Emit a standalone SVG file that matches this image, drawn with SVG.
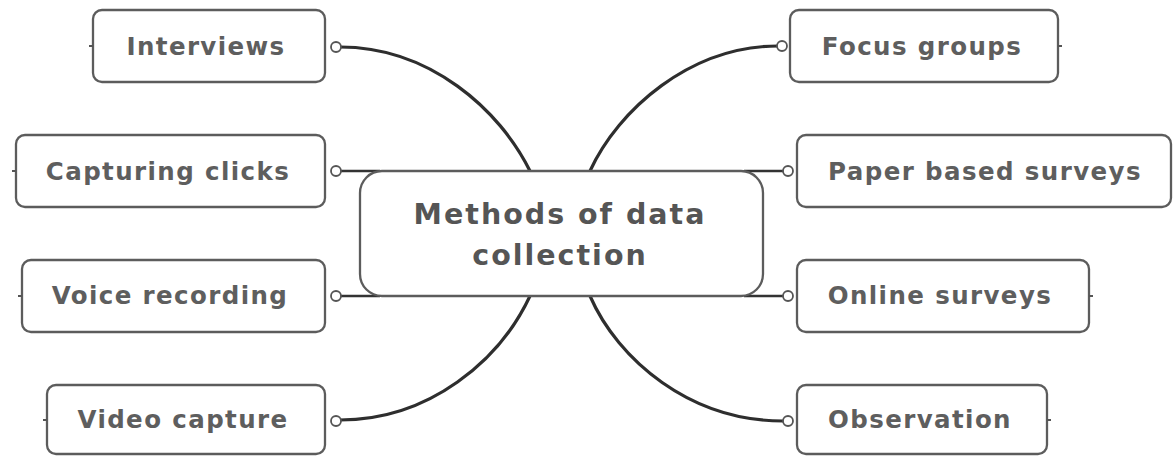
<svg xmlns="http://www.w3.org/2000/svg" width="1173" height="457" viewBox="0 0 1173 457">
<style>
.box{fill:#fff;stroke:#5c5c5c;stroke-width:2.3}
.lbl{font-family:"DejaVu Sans",Verdana,sans-serif;font-weight:bold;font-size:24.5px;letter-spacing:1.4px;fill:#5e5e5e;text-anchor:middle}
.ctr{font-size:28.5px;letter-spacing:2px;fill:#555}
.tick{stroke:#555;stroke-width:2}
.con{fill:none;stroke:#2e2e2e;stroke-width:3.2;stroke-linecap:round}
.stub{fill:none;stroke:#333;stroke-width:2.5}
.dot{fill:#fff;stroke:#555;stroke-width:1.8}
</style>
<rect width="1173" height="457" fill="#fff"/>
<g id="connectors">
<path class="con" d="M340,47 C430,47 500,110 530,171"/>
<path class="con" d="M778,46 C690,46 618,110 590,171"/>
<path class="con" d="M340,420 C430,420 500,360 530,296"/>
<path class="con" d="M783,421 C690,421 618,360 590,296"/>
<path class="stub" d="M340,171 L380,171"/>
<path class="stub" d="M340,296 L380,296"/>
<path class="stub" d="M744,171 L784,171"/>
<path class="stub" d="M744,296 L784,296"/>
<circle class="dot" cx="336" cy="47" r="5"/>
<circle class="dot" cx="336" cy="171" r="5"/>
<circle class="dot" cx="336" cy="296" r="5"/>
<circle class="dot" cx="336" cy="421" r="5"/>
<circle class="dot" cx="782" cy="46" r="5"/>
<circle class="dot" cx="788" cy="171" r="5"/>
<circle class="dot" cx="788" cy="296" r="5"/>
<circle class="dot" cx="788" cy="421" r="5"/>
</g>
<g id="center">
<rect class="box" x="360" y="171" width="403" height="125" rx="22"/>
<text class="lbl ctr" x="560" y="224">Methods of data</text>
<text class="lbl ctr" x="560" y="265">collection</text>
</g>
<g id="interviews">
<rect class="box" x="93" y="10" width="232" height="72" rx="9"/>
<line class="tick" x1="89" y1="46" x2="93" y2="46"/>
<text class="lbl" x="206" y="55">Interviews</text>
</g>
<g id="capturing-clicks">
<rect class="box" x="16" y="135" width="309" height="72" rx="9"/>
<line class="tick" x1="12" y1="171" x2="16" y2="171"/>
<text class="lbl" x="168" y="180">Capturing clicks</text>
</g>
<g id="voice-recording">
<rect class="box" x="22" y="260" width="303" height="72" rx="9"/>
<line class="tick" x1="18" y1="296" x2="22" y2="296"/>
<text class="lbl" x="170" y="304">Voice recording</text>
</g>
<g id="video-capture">
<rect class="box" x="47" y="385" width="278" height="69" rx="9"/>
<line class="tick" x1="43" y1="420" x2="47" y2="420"/>
<text class="lbl" x="183" y="428">Video capture</text>
</g>
<g id="focus-groups">
<rect class="box" x="790" y="10" width="268" height="72" rx="9"/>
<line class="tick" x1="1058" y1="46" x2="1062" y2="46"/>
<text class="lbl" x="922" y="55">Focus groups</text>
</g>
<g id="paper-based-surveys">
<rect class="box" x="797" y="135" width="374" height="72" rx="9"/>
<text class="lbl" x="985" y="180">Paper based surveys</text>
</g>
<g id="online-surveys">
<rect class="box" x="797" y="260" width="292" height="72" rx="9"/>
<line class="tick" x1="1089" y1="296" x2="1093" y2="296"/>
<text class="lbl" x="940" y="304">Online surveys</text>
</g>
<g id="observation">
<rect class="box" x="797" y="385" width="250" height="69" rx="9"/>
<line class="tick" x1="1047" y1="420" x2="1051" y2="420"/>
<text class="lbl" x="920" y="428">Observation</text>
</g>
</svg>
